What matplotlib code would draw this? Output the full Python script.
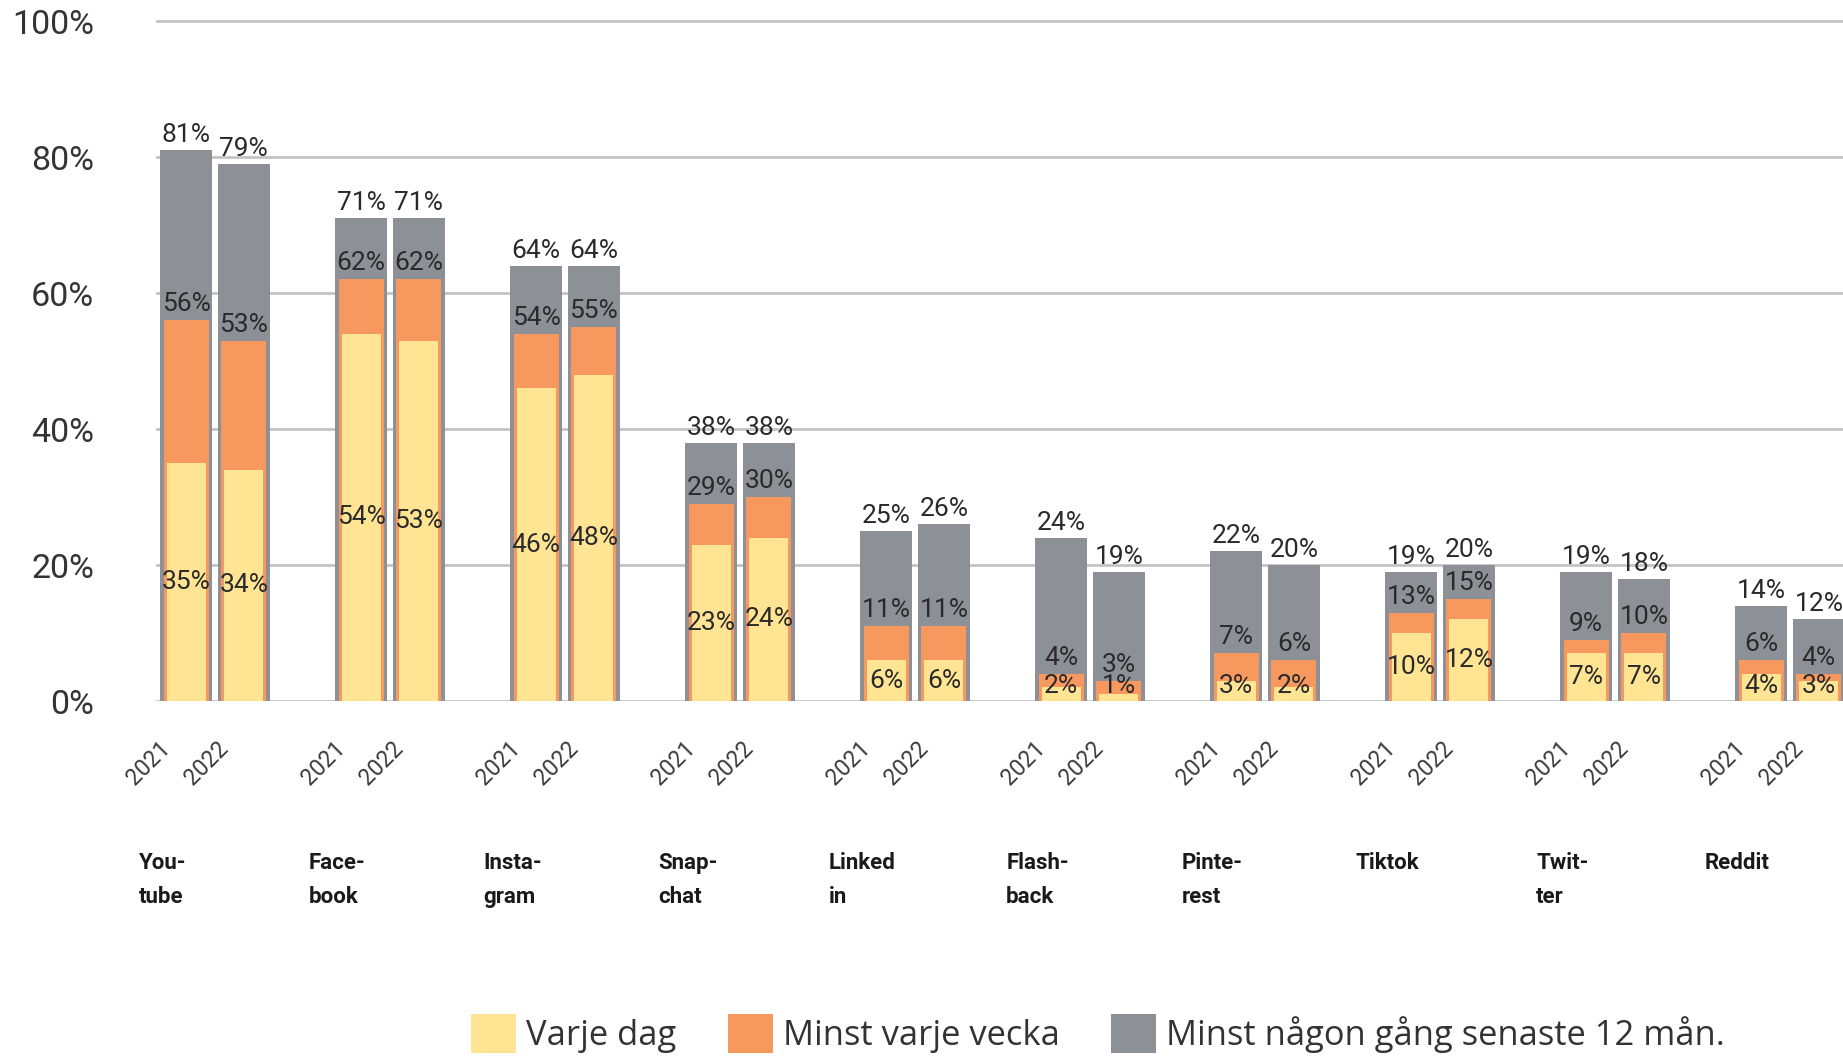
import numpy as np
import matplotlib
matplotlib.use("Agg")
import matplotlib.pyplot as plt
from matplotlib.patches import Patch

# ---------------- data ----------------
platforms = ["You-\ntube", "Face-\nbook", "Insta-\ngram", "Snap-\nchat", "Linked\nin",
             "Flash-\nback", "Pinte-\nrest", "Tiktok", "Twit-\nter", "Reddit"]
years = ["2021", "2022"]

total_2021 = [81, 71, 64, 38, 25, 24, 22, 19, 19, 14]
total_2022 = [79, 71, 64, 38, 26, 19, 20, 20, 18, 12]
weekly_2021 = [56, 62, 54, 29, 11, 4, 7, 13, 9, 6]
weekly_2022 = [53, 62, 55, 30, 11, 3, 6, 15, 10, 4]
daily_2021 = [35, 54, 46, 23, 6, 2, 3, 10, 7, 4]
daily_2022 = [34, 53, 48, 24, 6, 1, 2, 12, 7, 3]

y_ticks = [0, 20, 40, 60, 80, 100]
legend_labels = ["Varje dag", "Minst varje vecka", "Minst någon gång senaste 12 mån."]

# ---------------- style ----------------
YELLOW = "#FFE494"
ORANGE = "#F7995F"
GRAY = "#8D9096"
GRID = "#c4c4c4"
TXT = "#2a2a2a"

W, H = 1843, 1056
fig = plt.figure(figsize=(W / 100, H / 100), dpi=100)
ax_left = 156 / W
ax_bottom = (H - 701) / H
ax_top = (H - 7.4) / H
ax = fig.add_axes([ax_left, ax_bottom, 1.0 - ax_left, ax_top - ax_bottom])

x = np.arange(len(platforms))
offsets = [-0.165, 0.165]
series = [(total_2021, weekly_2021, daily_2021), (total_2022, weekly_2022, daily_2022)]

lab_kw = dict(fontsize=19, color=TXT, family="Roboto", zorder=6)
for off, (tot, wk, dy) in zip(offsets, series):
    pos = x + off
    ax.bar(pos, tot, width=0.297, color=GRAY, zorder=2)
    ax.bar(pos, wk, width=0.257, color=ORANGE, zorder=3)
    ax.bar(pos, dy, width=0.223, color=YELLOW, zorder=4)
    for p, t, w, d in zip(pos, tot, wk, dy):
        ax.annotate(f"{t}%", (p, t), xytext=(0, 5.8), textcoords="offset points",
                    ha="center", va="baseline", annotation_clip=False, **lab_kw)
        ax.annotate(f"{w}%", (p, w), xytext=(0, 6.5), textcoords="offset points",
                    ha="center", va="baseline", annotation_clip=False, **lab_kw)
        ax.text(p, max(d / 2, 2.15), f"{d}%", ha="center", va="center",
                clip_on=False, **lab_kw)

# year labels (rotated) and platform names
for j, off in enumerate(offsets):
    for xi in x:
        ax.text(xi + off - 0.063, -5.3, years[j], rotation=45, ha="right", va="top",
                fontsize=16.5, color="#3a3a3a", family="Roboto", clip_on=False)
for xi, name in zip(x, platforms):
    ax.text(xi - 0.30, -22.2, name, ha="center", va="top", multialignment="left",
            fontsize=16, fontweight="bold", color="#1a1a1a", family="Roboto",
            linespacing=1.72, clip_on=False)

ax.set_xlim(-0.337, 9.303)
ax.set_ylim(0, 102)
ax.set_yticks(y_ticks)
ax.set_yticklabels([f"{v}%" for v in y_ticks], fontsize=24.5, color="#333333",
                   family="Roboto")
ax.set_xticks([])
ax.tick_params(axis="y", length=0, pad=44.6)
ax.grid(axis="y", color=GRID, linewidth=2, zorder=0)
ax.set_axisbelow(True)
for s in ax.spines.values():
    s.set_visible(False)

handles = [Patch(facecolor=c, edgecolor="none") for c in (YELLOW, ORANGE, GRAY)]
fig.legend(handles, legend_labels, loc="upper left",
           bbox_to_anchor=(471 / W, 1 - 1014 / H), ncol=3, frameon=False,
           prop={"family": "Open Sans", "size": 24.8}, handlelength=1.31,
           handleheight=1.36, handletextpad=0.3, columnspacing=1.48,
           borderpad=0, borderaxespad=0, labelcolor="#333333")

fig.savefig("out.png", dpi=100)
